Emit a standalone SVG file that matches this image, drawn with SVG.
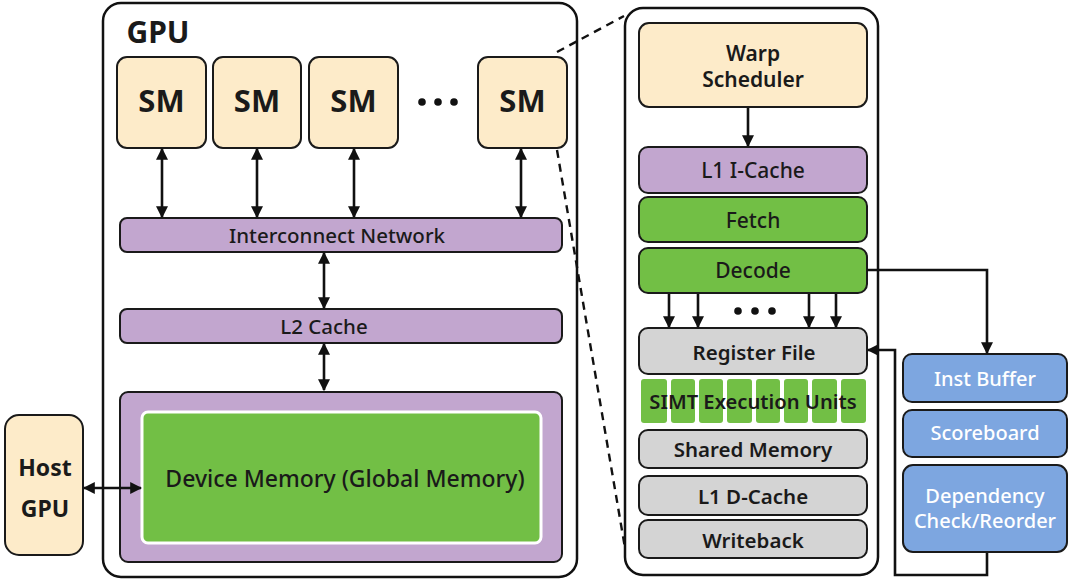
<svg xmlns="http://www.w3.org/2000/svg" width="1069" height="580" viewBox="0 0 1069 580">
<defs>
<marker id="ah" viewBox="0 0 10 10" refX="9" refY="5" markerWidth="12" markerHeight="12" markerUnits="userSpaceOnUse" orient="auto-start-reverse">
<path d="M0,0 L10,5 L0,10 z" fill="#111"/>
</marker>
<style>
.box{stroke:#1a1a1a;stroke-width:2}
.cream{fill:#FDEBC9}
.purple{fill:#C2A6CF}
.green{fill:#72BF45}
.gray{fill:#D4D4D4}
.blue{fill:#7DA6E0}
.cont{fill:#fff;stroke:#111;stroke-width:2.5}
text{font-family:"Noto Sans","Open Sans",sans-serif;fill:#1a1a1a;text-anchor:middle;dominant-baseline:central;font-weight:500}
.b{font-weight:700}
.sb{font-weight:600}
.w{fill:#fff}
.conn{stroke:#111;stroke-width:2.6;fill:none}
.dash{stroke:#111;stroke-width:2.4;fill:none;stroke-dasharray:8 6}
</style>
</defs>
<rect width="1069" height="580" fill="#fff"/>

<g id="gpu">
<rect class="cont" x="103" y="3" width="474" height="574" rx="18"/>
<text x="158" y="31" class="b" font-size="30">GPU</text>
</g>
<g id="sm1"><rect class="box cream" x="117" y="57" width="89" height="91" rx="10"/><text x="161.5" y="100" class="b" font-size="31">SM</text></g>
<g id="sm2"><rect class="box cream" x="213" y="57" width="88" height="91" rx="10"/><text x="257" y="100" class="b" font-size="31">SM</text></g>
<g id="sm3"><rect class="box cream" x="309" y="57" width="89" height="91" rx="10"/><text x="353.5" y="100" class="b" font-size="31">SM</text></g>
<g id="dots1"><circle cx="422" cy="102" r="3.8" fill="#111"/><circle cx="438" cy="102" r="3.8" fill="#111"/><circle cx="454" cy="102" r="3.8" fill="#111"/></g>
<g id="sm4"><rect class="box cream" x="478" y="57" width="89" height="91" rx="10"/><text x="522.5" y="100" class="b" font-size="31">SM</text></g>
<g id="interconnect"><rect class="box purple" x="120" y="218" width="442" height="34" rx="7"/><text x="337" y="235" font-size="20.5">Interconnect Network</text></g>
<g id="l2"><rect class="box purple" x="120" y="309" width="442" height="34" rx="7"/><text x="324" y="326" font-size="20.5">L2 Cache</text></g>
<g id="devmem">
<rect class="box purple" x="120" y="392" width="442" height="170" rx="8"/>
<rect x="142" y="412" width="399" height="131" rx="6" fill="#72BF45" stroke="#fff" stroke-width="3"/>
<text x="345" y="478" font-size="23">Device Memory (Global Memory)</text>
</g>
<g id="host"><rect class="box cream" x="5" y="415" width="78" height="140" rx="14"/><text x="45" y="467" class="b" font-size="23">Host</text><text x="45" y="508" class="b" font-size="23">GPU</text></g>

<g id="sm-detail">
<rect class="cont" x="625" y="8" width="253" height="567" rx="18"/>
</g>
<g id="warp"><rect class="box cream" x="639" y="23" width="228" height="84" rx="10"/><text x="753" y="53" class="sb" font-size="21">Warp</text><text x="753" y="79" class="sb" font-size="21">Scheduler</text></g>
<g id="l1i"><rect class="box purple" x="639" y="147" width="228" height="46" rx="9"/><text x="753" y="170" font-size="21">L1 I-Cache</text></g>
<g id="fetch"><rect class="box green" x="639" y="197" width="228" height="45" rx="9"/><text x="753" y="220" font-size="21">Fetch</text></g>
<g id="decode"><rect class="box green" x="639" y="248" width="228" height="45" rx="9"/><text x="753" y="270" font-size="21">Decode</text></g>
<g id="dots2"><circle cx="738" cy="311" r="3.8" fill="#111"/><circle cx="755" cy="311" r="3.8" fill="#111"/><circle cx="772" cy="311" r="3.8" fill="#111"/></g>
<g id="regfile"><rect class="box gray" x="639" y="328" width="228" height="46" rx="9"/><text x="754" y="352" class="sb" font-size="20.5">Register File</text></g>
<g id="simt">
<rect class="green" x="641" y="379" width="26" height="44" rx="3"/>
<rect class="green" x="671" y="379" width="24" height="44" rx="3"/>
<rect class="green" x="699" y="379" width="24" height="44" rx="3"/>
<rect class="green" x="727" y="379" width="25" height="44" rx="3"/>
<rect class="green" x="756" y="379" width="24" height="44" rx="3"/>
<rect class="green" x="784" y="379" width="24" height="44" rx="3"/>
<rect class="green" x="812" y="379" width="25" height="44" rx="3"/>
<rect class="green" x="841" y="379" width="25" height="44" rx="3"/>
<text x="753" y="401" class="sb" font-size="20.2">SIMT Execution Units</text>
</g>
<g id="shmem"><rect class="box gray" x="639" y="430" width="228" height="38" rx="9"/><text x="753" y="449" class="sb" font-size="20.5">Shared Memory</text></g>
<g id="l1d"><rect class="box gray" x="639" y="476" width="228" height="39" rx="9"/><text x="753" y="496" class="sb" font-size="20.5">L1 D-Cache</text></g>
<g id="wb"><rect class="box gray" x="639" y="520" width="228" height="38" rx="9"/><text x="753" y="540" class="sb" font-size="20.5">Writeback</text></g>

<g id="instbuf"><rect class="box blue" x="903" y="354" width="164" height="48" rx="9"/><text x="985" y="378" class="w" font-size="20">Inst Buffer</text></g>
<g id="scoreboard"><rect class="box blue" x="903" y="410" width="164" height="47" rx="9"/><text x="985" y="432" class="w" font-size="20">Scoreboard</text></g>
<g id="depcheck"><rect class="box blue" x="903" y="465" width="164" height="87" rx="10"/><text x="985" y="495" class="w" font-size="20">Dependency</text><text x="985" y="520" class="w" font-size="20">Check/Reorder</text></g>

<g id="connectors">
<line class="conn" x1="162" y1="149" x2="162" y2="217" marker-start="url(#ah)" marker-end="url(#ah)"/>
<line class="conn" x1="257" y1="149" x2="257" y2="217" marker-start="url(#ah)" marker-end="url(#ah)"/>
<line class="conn" x1="354" y1="149" x2="354" y2="217" marker-start="url(#ah)" marker-end="url(#ah)"/>
<line class="conn" x1="521" y1="149" x2="521" y2="217" marker-start="url(#ah)" marker-end="url(#ah)"/>
<line class="conn" x1="324" y1="253" x2="324" y2="308" marker-start="url(#ah)" marker-end="url(#ah)"/>
<line class="conn" x1="324" y1="344" x2="324" y2="390" marker-start="url(#ah)" marker-end="url(#ah)"/>
<line class="conn" x1="84" y1="488" x2="141" y2="488" marker-start="url(#ah)" marker-end="url(#ah)"/>
<line class="dash" x1="557" y1="52" x2="624" y2="16"/>
<line class="dash" x1="557" y1="150" x2="625" y2="548"/>
<line class="conn" x1="748" y1="108" x2="748" y2="146" marker-end="url(#ah)"/>
<line class="conn" x1="669" y1="294" x2="669" y2="327" marker-end="url(#ah)"/>
<line class="conn" x1="698" y1="294" x2="698" y2="327" marker-end="url(#ah)"/>
<line class="conn" x1="809" y1="294" x2="809" y2="327" marker-end="url(#ah)"/>
<line class="conn" x1="836" y1="294" x2="836" y2="327" marker-end="url(#ah)"/>
<polyline class="conn" points="867,270 987,270 987,353" marker-end="url(#ah)"/>
<polyline class="conn" points="987,553 987,575 895,575 895,350 868,350" marker-end="url(#ah)"/>
</g>
</svg>
